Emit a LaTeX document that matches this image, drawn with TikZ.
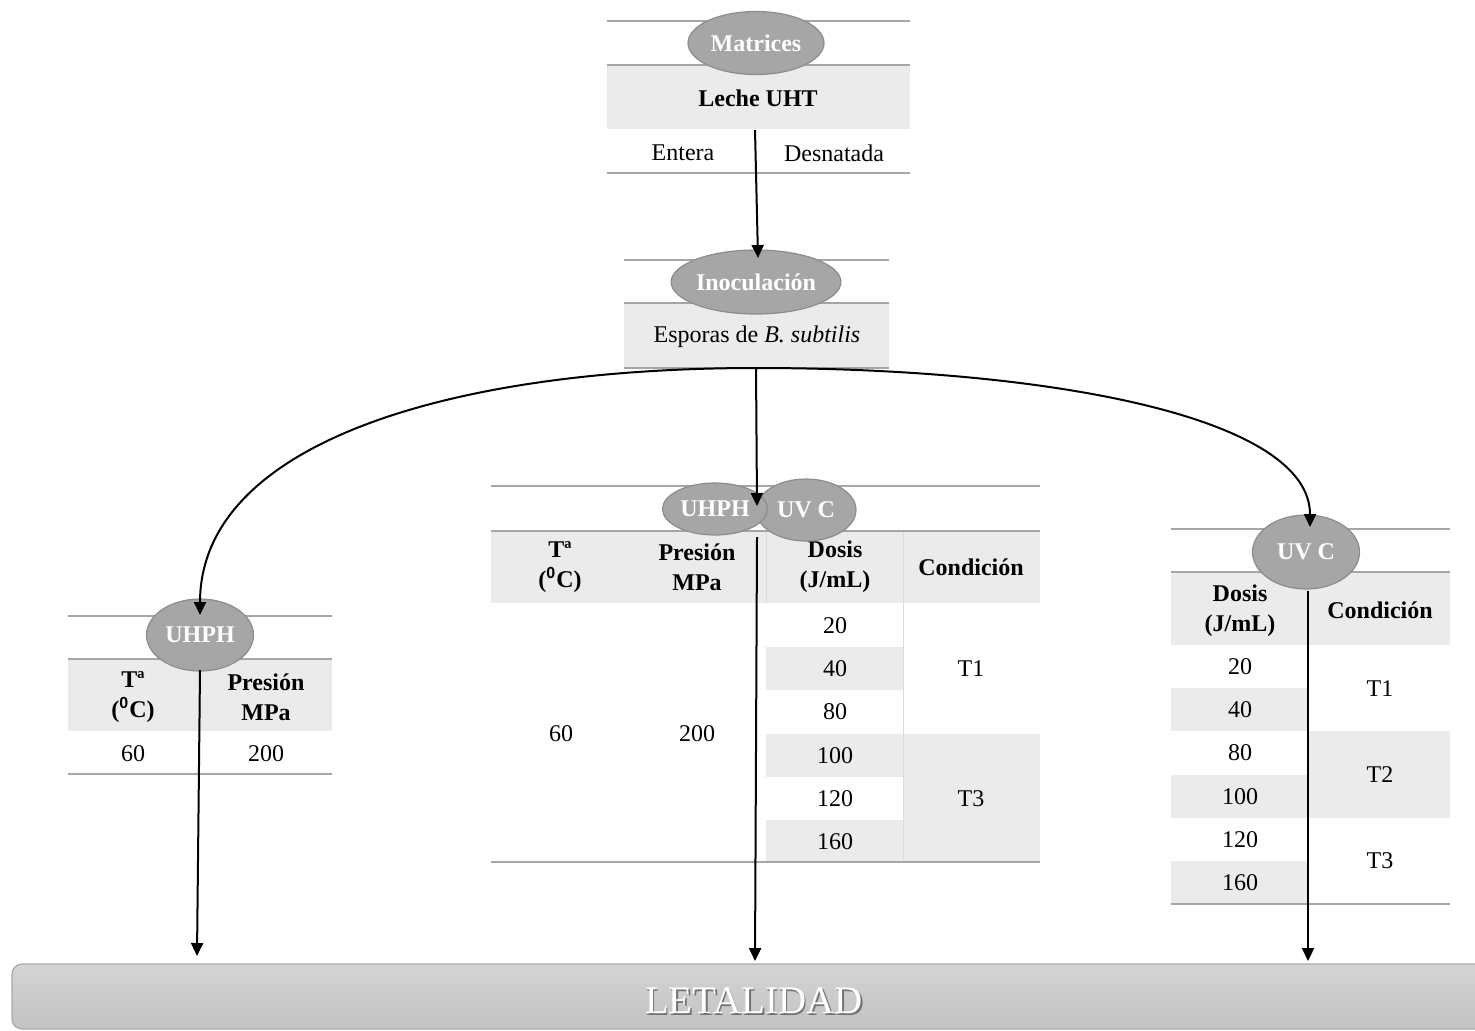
\documentclass[tikz,border=0pt]{standalone}
\usepackage{fontspec}
\setmainfont{Liberation Serif}
\setsansfont{Liberation Sans}
\usetikzlibrary{shapes.geometric,arrows.meta}
\definecolor{band}{HTML}{EBEBEB}
\definecolor{rulec}{HTML}{A6A6A6}
\definecolor{ellfill}{HTML}{A6A6A6}
\definecolor{elldraw}{HTML}{8C8C8C}
\definecolor{bartop}{HTML}{D4D4D4}
\definecolor{barbot}{HTML}{C2C2C2}
\definecolor{barline}{HTML}{A9A9A9}
\definecolor{sepc}{HTML}{DCDCDC}
\newcommand{\degcel}{(\textsuperscript{\sffamily 0}C)}
\begin{document}
\begin{tikzpicture}[x=0.5pt,y=-0.5pt,
  txt/.style={font=\fontsize{12}{15}\selectfont, inner sep=0pt, align=center},
  hdr/.style={font=\fontsize{12}{15}\selectfont\bfseries, inner sep=0pt, align=center},
  ell/.style={ellipse, fill=ellfill, draw=elldraw, line width=0.6pt, text=white,
    font=\fontsize{12}{14}\selectfont\bfseries, inner sep=0pt},
  tabrule/.style={draw=rulec, line width=1pt},
  sepline/.style={draw=sepc, line width=0.5pt},
  arr/.style={line width=1pt, -{Triangle[width=6pt,length=6.5pt]}},
  plainline/.style={line width=1pt}]
\path[use as bounding box] (0,0) rectangle (1475,1030);
\clip (0,0) rectangle (1475,1030);

% ---------- Matrices table ----------
\fill[band] (607,65) rectangle (910,129);
\draw[tabrule] (607,21) -- (910,21) (607,65) -- (910,65) (607,173) -- (910,173);
\node[hdr] (leche) at (758,98) {Leche UHT};
\node[txt] (entera) at (683,153) {Entera};
\node[txt] (desn) at (834,153) {Desnatada};
\node[ell, minimum width=68pt, minimum height=31.5pt] (matrices) at (756,43) {Matrices};
\coordinate (lecheB) at (755,130);

% ---------- Inoculacion table ----------
\fill[band] (624,303) rectangle (889,367);
\draw[tabrule] (624,260) -- (889,260) (624,303) -- (889,303) (624,368) -- (889,368);
\node[txt] (esporas) at (757,337) {Esporas de \textit{B. subtilis}};
\node[ell, minimum width=79.5pt, minimum height=32pt] (inoc) at (756,282) {Inoculación};
\coordinate (inocT) at (758,258);
\coordinate (inocB) at (756,368);

% ---------- Middle table ----------
\fill[band] (491,531) rectangle (1040,603);
\fill[band] (766,647) rectangle (903,690);
\fill[band] (766,734) rectangle (903,777);
\fill[band] (766,820) rectangle (903,862);
\fill[band] (903,734) rectangle (1040,862);
\draw[sepline] (766,531) -- (766,603) (903,531) -- (903,862);
\draw[tabrule] (491,486) -- (1040,486) (491,531) -- (1040,531) (491,862) -- (1040,862);
\node[hdr] (mT) at (560,567) {Tª\\\degcel};
\node[hdr] (mP) at (697,567) {Presión\\MPa};
\node[hdr] (mD) at (835,567) {Dosis\\(J/mL)};
\node[hdr] (mC) at (971,567) {Condición};
\node[txt] (m60) at (561,734) {60};
\node[txt] (m200) at (697,734) {200};
\node[txt] (md1) at (835,626) {20};
\node[txt] (md2) at (835,669) {40};
\node[txt] (md3) at (835,712) {80};
\node[txt] (md4) at (835,756) {100};
\node[txt] (md5) at (835,799) {120};
\node[txt] (md6) at (835,842) {160};
\node[txt] (mT1) at (971,669) {T1};
\node[txt] (mT3) at (971,799) {T3};
\node[ell, minimum width=50pt, minimum height=31pt] (mUV) at (806,510) {UV C};
\node[ell, minimum width=52.5pt, minimum height=26pt] (mUHPH) at (715,509) {UHPH};
\coordinate (midTip) at (757,506);
\coordinate (midStart) at (757,537);
\coordinate (midEnd) at (755,961);

% ---------- Left table ----------
\fill[band] (68,659) rectangle (332,731);
\draw[sepline] (200,659) -- (200,731);
\draw[tabrule] (68,616) -- (332,616) (68,659) -- (332,659) (68,774) -- (332,774);
\node[hdr] (lT) at (133,697) {Tª\\\degcel};
\node[hdr] (lP) at (266,697) {Presión\\MPa};
\node[txt] (l60) at (133,754) {60};
\node[txt] (l200) at (266,754) {200};
\node[ell, minimum width=53.5pt, minimum height=36pt] (lUHPH) at (200,635) {UHPH};
\coordinate (leftTip) at (200,615);
\coordinate (leftStart) at (200,670);
\coordinate (leftEnd) at (197,956);

% ---------- Right table ----------
\fill[band] (1171,572) rectangle (1450,645);
\fill[band] (1171,688) rectangle (1307,731);
\fill[band] (1171,775) rectangle (1307,818);
\fill[band] (1171,861) rectangle (1307,904);
\fill[band] (1308,731) rectangle (1450,818);
\draw[sepline] (1308,572) -- (1308,645);
\draw[tabrule] (1171,529) -- (1450,529) (1171,572) -- (1450,572) (1171,904) -- (1450,904);
\node[hdr] (rD) at (1240,611) {Dosis\\(J/mL)};
\node[hdr] (rC) at (1380,610) {Condición};
\node[txt] (rd1) at (1240,667) {20};
\node[txt] (rd2) at (1240,710) {40};
\node[txt] (rd3) at (1240,753) {80};
\node[txt] (rd4) at (1240,797) {100};
\node[txt] (rd5) at (1240,840) {120};
\node[txt] (rd6) at (1240,883) {160};
\node[txt] (rT1) at (1380,689) {T1};
\node[txt] (rT2) at (1380,775) {T2};
\node[txt] (rT3) at (1380,861) {T3};
\node[ell, minimum width=53.5pt, minimum height=37pt] (rUV) at (1306,552) {UV C};
\coordinate (rightTip) at (1310,527);
\coordinate (rightStart) at (1308,591);
\coordinate (rightEnd) at (1308,961);

% ---------- LETALIDAD bar ----------
\shade[top color=bartop, bottom color=barbot, draw=barline, line width=0.6pt, rounded corners=5pt]
  (12,964) rectangle (1500,1029);
\node[font=\fontsize{19.5}{22}\selectfont, text=black!55, inner sep=0pt] at (755.5,1002.5) {LETALIDAD};
\node[font=\fontsize{19.5}{22}\selectfont, text=white, inner sep=0pt] (letal) at (754,1001) {LETALIDAD};

% ---------- connectors ----------
\draw[arr] (lecheB) -- (inocT);
\draw[arr] (inocB) -- (midTip);
\draw[arr] (inocB) .. controls +(-306,0) and +(0,-172) .. (leftTip);
\draw[arr] (inocB) .. controls +(294,0) and +(0,-110) .. (rightTip);
\draw[arr] (leftStart) -- (leftEnd);
\draw[arr] (midStart) -- (midEnd);
\draw[arr] (rightStart) -- (rightEnd);
\end{tikzpicture}
\end{document}
